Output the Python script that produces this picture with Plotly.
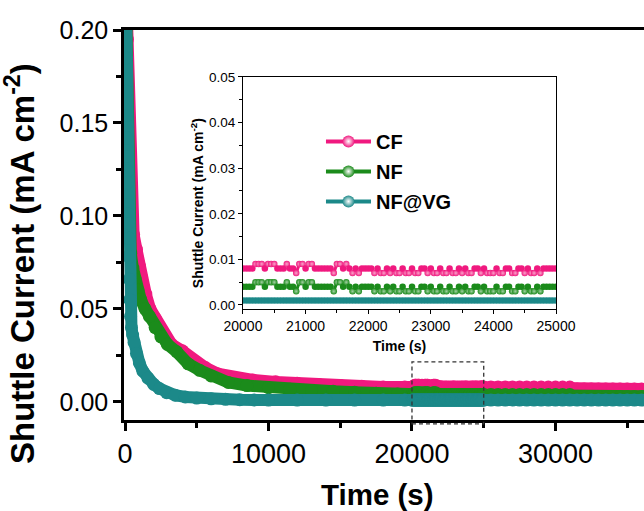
import plotly.graph_objects as go

# ---------------- data (current in mA cm^-2, time in s) ----------------
# decay region, 0 - 20000 s
CF_T = [0, 100, 170, 230, 290, 360, 450, 600, 800, 1000, 1150, 1450, 1750, 2100, 2400,
        2800, 3250, 4000, 4850, 5600, 6450, 7600, 8900, 10500, 12000, 13500, 15000,
        16500, 18000, 19500]
CF_I = [0.240, 0.215, 0.195, 0.165, 0.135, 0.115, 0.100, 0.090, 0.082, 0.073, 0.067,
        0.058, 0.050, 0.045, 0.040, 0.035, 0.031, 0.0275, 0.022, 0.0185, 0.0152, 0.0130,
        0.0118, 0.0108, 0.0100, 0.0094, 0.0088, 0.0084, 0.0081, 0.0080]

NF_T = [0, 60, 100, 140, 180, 230, 300, 400, 550, 700, 900, 1100, 1400, 1700, 2100,
        2500, 2950, 3600, 4400, 5200, 6000, 7200, 8500, 10000, 11500, 13000, 14500,
        16000, 17500, 19000]
NF_I = [0.240, 0.200, 0.170, 0.140, 0.118, 0.100, 0.090, 0.080, 0.072, 0.066, 0.060,
        0.055, 0.050, 0.046, 0.040, 0.035, 0.031, 0.027, 0.0205, 0.0170, 0.0140, 0.0105,
        0.0088, 0.0077, 0.0069, 0.0062, 0.0057, 0.0052, 0.0047, 0.0043]

VG_T = [0, 60, 80, 95, 110, 125, 140, 155, 170, 185, 200, 215, 230, 250, 275, 300, 340,
        390, 450, 530, 630, 800, 1000, 1250, 1600, 2000, 2400, 2900, 3500, 4200, 5000,
        6000, 7000, 8000, 9000, 10000, 12000, 14000, 16000, 18000, 19500]
VG_I = [0.240, 0.205, 0.185, 0.167, 0.154, 0.142, 0.132, 0.124, 0.118, 0.111, 0.106,
        0.101, 0.096, 0.088, 0.078, 0.066, 0.055, 0.046, 0.040, 0.036, 0.032, 0.026,
        0.021, 0.0165, 0.0128, 0.0095, 0.0072, 0.0050, 0.0036, 0.0027, 0.0021, 0.0017,
        0.0014, 0.0012, 0.0011, 0.0010, 0.0010, 0.0010, 0.0010, 0.0010, 0.0010]

# 20000 - 25000 s window, sampled every 50 s, in uA cm^-2
WIN_START, WIN_STEP = 20000, 50
CF_WIN = [8, 8, 8, 8, 9, 9, 9, 8, 9, 9, 9, 8, 8, 8, 9, 8, 8, 7, 9, 9, 8, 9, 9, 8, 8, 8,
          8, 8, 8, 7, 9, 9, 8, 9, 8, 7, 8, 7, 8, 8, 8, 8, 7, 8, 7, 7, 8, 7, 8, 7, 7, 8,
          7, 7, 8, 7, 7, 8, 8, 7, 8, 7, 7, 8, 7, 7, 8, 7, 7, 8, 7, 8, 7, 7, 8, 8, 7, 8,
          7, 7, 7, 8, 7, 7, 8, 8, 7, 7, 8, 8, 7, 8, 7, 7, 8, 7, 8, 8, 8, 8, 8]
NF_WIN = [4, 4, 4, 4, 5, 5, 5, 4, 5, 5, 5, 4, 4, 4, 5, 4, 4, 3, 5, 5, 4, 5, 5, 4, 4, 4,
          4, 4, 4, 3, 5, 5, 4, 5, 4, 3, 4, 3, 4, 4, 4, 4, 3, 4, 3, 3, 4, 3, 4, 3, 3, 4,
          3, 3, 4, 3, 3, 4, 4, 3, 4, 3, 3, 4, 3, 3, 4, 3, 3, 4, 3, 4, 3, 3, 4, 4, 3, 4,
          3, 3, 3, 4, 3, 3, 4, 4, 3, 3, 4, 4, 3, 4, 3, 3, 4, 3, 4, 4, 4, 4, 4]
VG_WIN = [1, 1, 1, 1, 1, 1, 1, 1, 1, 1, 1, 1, 1, 1, 1, 1, 1, 1, 1, 1, 1, 1, 1, 1, 1, 1,
          1, 1, 1, 1, 1, 1, 1, 1, 1, 1, 1, 1, 1, 1, 1, 1, 1, 1, 1, 1, 1, 1, 1, 1, 1, 1,
          1, 1, 1, 1, 1, 1, 1, 1, 1, 1, 1, 1, 1, 1, 1, 1, 1, 1, 1, 1, 1, 1, 1, 1, 1, 1,
          1, 1, 1, 1, 1, 1, 1, 1, 1, 1, 1, 1, 1, 1, 1, 1, 1, 1, 1, 1, 1, 1, 1]
# steady level of each series in the window, uA cm^-2
WIN_LEVEL = [8, 4, 1]

# long-time tail, 25500 - 36500 s, in uA cm^-2
TAIL_T = [25500, 26000, 26500, 27000, 27500, 28000, 28500, 29000, 29500, 30000, 30500,
          31000, 31500, 32000, 32500, 33000, 33500, 34000, 34500, 35000, 35500, 36000, 36500]
CF_TAIL = [8, 8, 8, 8, 8, 8, 8, 8, 8, 8, 8, 8, 7, 7, 7, 7, 7, 7, 7, 7, 7, 7, 7]
NF_TAIL = [4, 4, 4, 4, 4, 4, 4, 4, 4, 4, 4, 4, 3, 3, 3, 3, 3, 3, 3, 3, 3, 3, 3]
VG_TAIL = [1, 1, 1, 1, 1, 1, 1, 1, 1, 1, 1, 1, 1, 1, 1, 1, 1, 1, 1, 1, 1, 1, 1]

NAMES = ["CF", "NF", "NF@VG"]
COLORS = ["#F0197F", "#1B8B1B", "#1C8989"]
SHINE = ["#F9A6CB", "#A3D1A3", "#A4CFCF"]   # highlight tints for the glossy markers

# ---------------- assemble series ----------------
win_t = [WIN_START + k * WIN_STEP for k in range(len(CF_WIN))]


def to_mA(seq):
    return [v / 1000.0 for v in seq]


series = [
    (CF_T + win_t + TAIL_T, CF_I + to_mA(CF_WIN) + to_mA(CF_TAIL), CF_WIN),
    (NF_T + win_t + TAIL_T, NF_I + to_mA(NF_WIN) + to_mA(NF_TAIL), NF_WIN),
    (VG_T + win_t + TAIL_T, VG_I + to_mA(VG_WIN) + to_mA(VG_TAIL), VG_WIN),
]

XR = [-70, 36170]
YR = [-0.0097, 0.2]
XR2 = [20000, 25000]
YR2 = [-0.00088, 0.05]

FONT = "Liberation Sans"

fig = go.Figure()

# main curves: dense, thick bands
for name, color, (t, i, _) in zip(NAMES, COLORS, series):
    fig.add_trace(go.Scatter(
        x=t, y=i, mode="lines+markers", showlegend=False, hoverinfo="skip",
        line=dict(color=color, width=12),
        marker=dict(size=13, color=color, line=dict(width=0)),
        xaxis="x", yaxis="y"))

# inset curves; points off the steady level get a glossy highlight
for name, color, shine, level, (_, _, w) in zip(NAMES, COLORS, SHINE, WIN_LEVEL, series):
    glossy = ["radial" if v != level else "none" for v in w]
    fig.add_trace(go.Scatter(
        x=win_t, y=to_mA(w), mode="lines+markers", showlegend=False, hoverinfo="skip",
        line=dict(color=color, width=3),
        marker=dict(size=6.5, color=color, line=dict(width=0),
                    gradient=dict(type=glossy, color=shine)),
        xaxis="x2", yaxis="y2"))

# legend entries
for name, color in zip(NAMES, COLORS):
    fig.add_trace(go.Scatter(
        x=[None], y=[None], mode="lines+markers", name=name, legendgroup=name,
        line=dict(color=color, width=4),
        marker=dict(size=12, color=color, line=dict(width=0),
                    gradient=dict(type="radial", color="white")),
        xaxis="x2", yaxis="y2"))


def px(x):
    return (x - XR[0]) / (XR[1] - XR[0])


def py(y):
    return (y - YR[0]) / (YR[1] - YR[0])


# dashed box marking the inset window on the main axes
fig.add_shape(type="rect", xref="paper", yref="paper",
              x0=px(XR2[0]), x1=px(XR2[1]), y0=py(-0.0118), y1=py(0.0215),
              line=dict(color="#333333", width=1.3, dash="4px,3px"))

# axis titles of the main axes
fig.add_annotation(text="<b>Shuttle Current (mA cm<sup>-2</sup>)</b>", textangle=-90,
                   xref="paper", yref="paper", x=-0.20, y=0.40, showarrow=False,
                   xanchor="center", yanchor="middle",
                   font=dict(family=FONT, size=33, color="black"))
fig.add_annotation(text="<b>Time (s)</b>",
                   xref="paper", yref="paper", x=0.487, y=-0.19, showarrow=False,
                   xanchor="center", yanchor="middle",
                   font=dict(family=FONT, size=29.5, color="black"))
# inset y title
fig.add_annotation(text="<b>Shuttle Current (mA cm<sup>-2</sup>)</b>", textangle=-90,
                   xref="paper", yref="paper", x=0.1404, y=0.556, showarrow=False,
                   xanchor="center", yanchor="middle",
                   font=dict(family=FONT, size=14, color="black"))

fig.update_layout(
    template="none",
    width=644, height=511, autosize=False,
    margin=dict(l=124, r=0, t=30, b=91, pad=0, autoexpand=False),
    paper_bgcolor="white", plot_bgcolor="white",
    font=dict(family=FONT, color="black"),
    showlegend=True,
    xaxis=dict(
        domain=[0, 1], range=XR, showgrid=False, zeroline=False, automargin=False,
        showline=True, linecolor="black", linewidth=2.5, mirror=True,
        ticks="outside", ticklen=8, tickwidth=2.5, tickcolor="black",
        tick0=0, dtick=10000, tickformat="d",
        minor=dict(ticks="outside", ticklen=5, tickwidth=2.5, tickcolor="black",
                   tick0=0, dtick=5000, showgrid=False),
        tickfont=dict(family=FONT, size=27, color="black"),
    ),
    yaxis=dict(
        domain=[0, 1], range=YR, showgrid=False, zeroline=False, automargin=False,
        showline=True, linecolor="black", linewidth=2.5,
        ticks="outside", ticklen=8, tickwidth=2.5, tickcolor="black",
        tick0=0, dtick=0.05, tickformat=".2f",
        minor=dict(ticks="outside", ticklen=5, tickwidth=2.5, tickcolor="black",
                   tick0=0, dtick=0.025, showgrid=False),
        tickfont=dict(family=FONT, size=25, color="black"),
    ),
    xaxis2=dict(
        domain=[0.2288, 0.8308], anchor="y2", range=XR2, showgrid=False, zeroline=False,
        automargin=False,
        showline=True, linecolor="black", linewidth=1.2, mirror=True,
        ticks="outside", ticklen=4, tickwidth=1.2, tickcolor="black",
        tick0=20000, dtick=1000, tickformat="d",
        minor=dict(ticks="outside", ticklen=2.5, tickwidth=1, tickcolor="black",
                   tick0=20000, dtick=500, showgrid=False),
        tickfont=dict(family=FONT, size=14, color="black"),
        title=dict(text="<b>Time (s)</b>", font=dict(family=FONT, size=14, color="black"),
                   standoff=8),
    ),
    yaxis2=dict(
        domain=[0.2846, 0.8795], anchor="x2", range=YR2, showgrid=False, zeroline=False,
        automargin=False,
        showline=True, linecolor="black", linewidth=1.2, mirror=True,
        ticks="outside", ticklen=4, tickwidth=1.2, tickcolor="black",
        tick0=0, dtick=0.01, tickformat=".2f",
        minor=dict(ticks="outside", ticklen=2.5, tickwidth=1, tickcolor="black",
                   tick0=0, dtick=0.005, showgrid=False),
        tickfont=dict(family=FONT, size=13.5, color="black"),
    ),
    legend=dict(
        x=0.3788, y=0.7644, xanchor="left", yanchor="top",
        bgcolor="rgba(0,0,0,0)", borderwidth=0,
        font=dict(family=FONT, size=20, weight="bold", color="black"),
        traceorder="grouped", tracegroupgap=1, itemwidth=45,
    ),
)

# round line joins so the thick curve bands have no miter spikes
ROUND_JOINS = (
    "document.querySelectorAll('.scatterlayer path.js-line')"
    ".forEach(function (p) { p.style.strokeLinejoin = 'round'; });"
)

fig.write_html("out.html", post_script=ROUND_JOINS)
